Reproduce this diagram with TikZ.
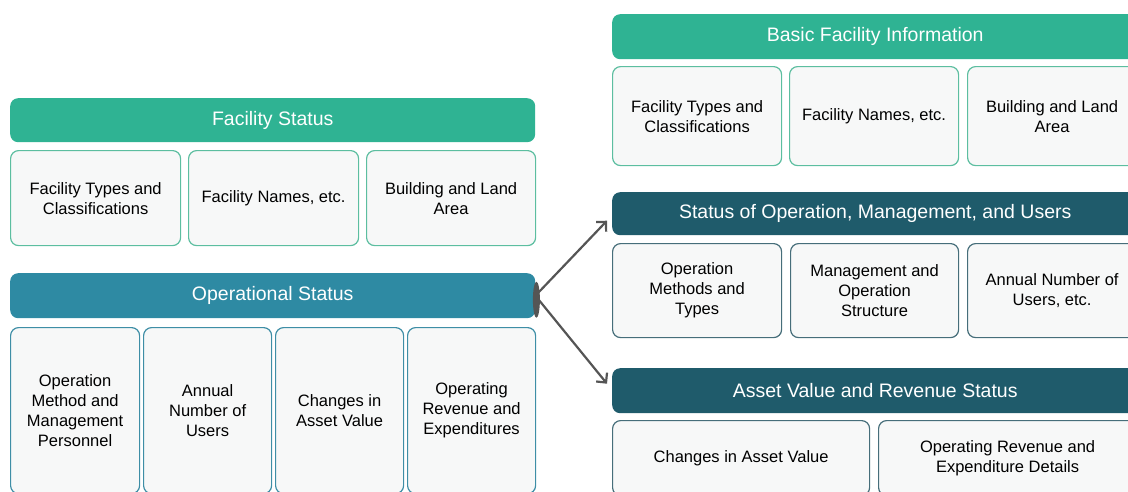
\documentclass[tikz,border=0pt]{standalone}
\usepackage{fontspec}
\setmainfont{Liberation Sans}
\usetikzlibrary{arrows.meta}
\definecolor{fgreen}{RGB}{47,179,147}
\definecolor{oblue}{RGB}{46,138,163}
\definecolor{dteal}{RGB}{31,91,107}
\definecolor{cellgray}{RGB}{247,248,248}
\definecolor{gline}{RGB}{92,190,160}
\definecolor{bline}{RGB}{62,142,166}
\definecolor{dline}{RGB}{70,110,122}
\definecolor{arrowgray}{RGB}{85,85,85}
\tikzset{
	head/.style={anchor=north west, rounded corners=8pt, text=white, inner sep=0pt, font=\fontsize{19.5}{22}\selectfont},
	cell/.style={anchor=north west, draw, line width=1.2pt, rounded corners=8pt, fill=cellgray, align=center, inner sep=0pt, font=\fontsize{16.5}{20}\selectfont},
}

\begin{document}
\begin{tikzpicture}[x=1pt, y=-1pt]
		\useasboundingbox (0,0) rectangle (1128,491);
		\node[head, fill=fgreen, minimum width=525pt, minimum height=44pt] (fs) at (10,98) {Facility Status};
		\node[cell, draw=gline, minimum width=170pt, minimum height=95pt] (fs1) at (10,150) {Facility Types and\\Classifications};
		\node[cell, draw=gline, minimum width=170pt, minimum height=95pt] (fs2) at (188,150) {Facility Names, etc.};
		\node[cell, draw=gline, minimum width=169pt, minimum height=95pt] (fs3) at (366,150) {Building and Land\\Area};
		\node[head, fill=oblue, minimum width=525pt, minimum height=45pt] (os) at (10,273) {Operational Status};
		\node[cell, draw=bline, minimum width=129pt, minimum height=166pt] (os1) at (10,327) {Operation\\Method and\\Management\\Personnel};
		\node[cell, draw=bline, minimum width=128pt, minimum height=166pt] (os2) at (143,327) {Annual\\Number of\\Users};
		\node[cell, draw=bline, minimum width=128pt, minimum height=166pt] (os3) at (275,327) {Changes in\\Asset Value};
		\node[cell, draw=bline, minimum width=128pt, minimum height=166pt] (os4) at (407,327) {Operating\\Revenue and\\Expenditures};
		\node[head, fill=fgreen, minimum width=526pt, minimum height=45pt] (bfi) at (612,14) {Basic Facility Information};
		\node[cell, draw=gline, minimum width=169pt, minimum height=99pt] (bfi1) at (612,66) {Facility Types and\\Classifications};
		\node[cell, draw=gline, minimum width=169pt, minimum height=99pt] (bfi2) at (789,66) {Facility Names, etc.};
		\node[cell, draw=gline, minimum width=169pt, minimum height=99pt] (bfi3) at (967,66) {Building and Land\\Area};
		\node[head, fill=dteal, minimum width=526pt, minimum height=43pt] (som) at (612,192) {Status of Operation, Management, and Users};
		\node[cell, draw=dline, minimum width=169pt, minimum height=94pt] (som1) at (612,243) {Operation\\Methods and\\Types};
		\node[cell, draw=dline, minimum width=168pt, minimum height=94pt] (som2) at (790,243) {Management and\\Operation\\Structure};
		\node[cell, draw=dline, minimum width=169pt, minimum height=94pt] (som3) at (967,243) {Annual Number of\\Users, etc.};
		\node[head, fill=dteal, minimum width=526pt, minimum height=45pt] (avr) at (612,368) {Asset Value and Revenue Status};
		\node[cell, draw=dline, minimum width=257pt, minimum height=75pt] (avr1) at (612,420) {Changes in Asset Value};
		\node[cell, draw=dline, minimum width=258pt, minimum height=75pt] (avr2) at (878,420) {Operating Revenue and\\Expenditure Details};
		\fill[arrowgray] (os.east) ++(1,4) ellipse (3.5 and 18);
		\draw[arrowgray, line width=2.2pt, -{Straight Barb[length=7pt]}] (os.east) -- ([xshift=-5pt, yshift=-7pt]som.west);
		\draw[arrowgray, line width=2.2pt, -{Straight Barb[length=7pt]}] (os.east) -- ([xshift=-5pt, yshift=7pt]avr.west);
	\end{tikzpicture}
\end{document}
